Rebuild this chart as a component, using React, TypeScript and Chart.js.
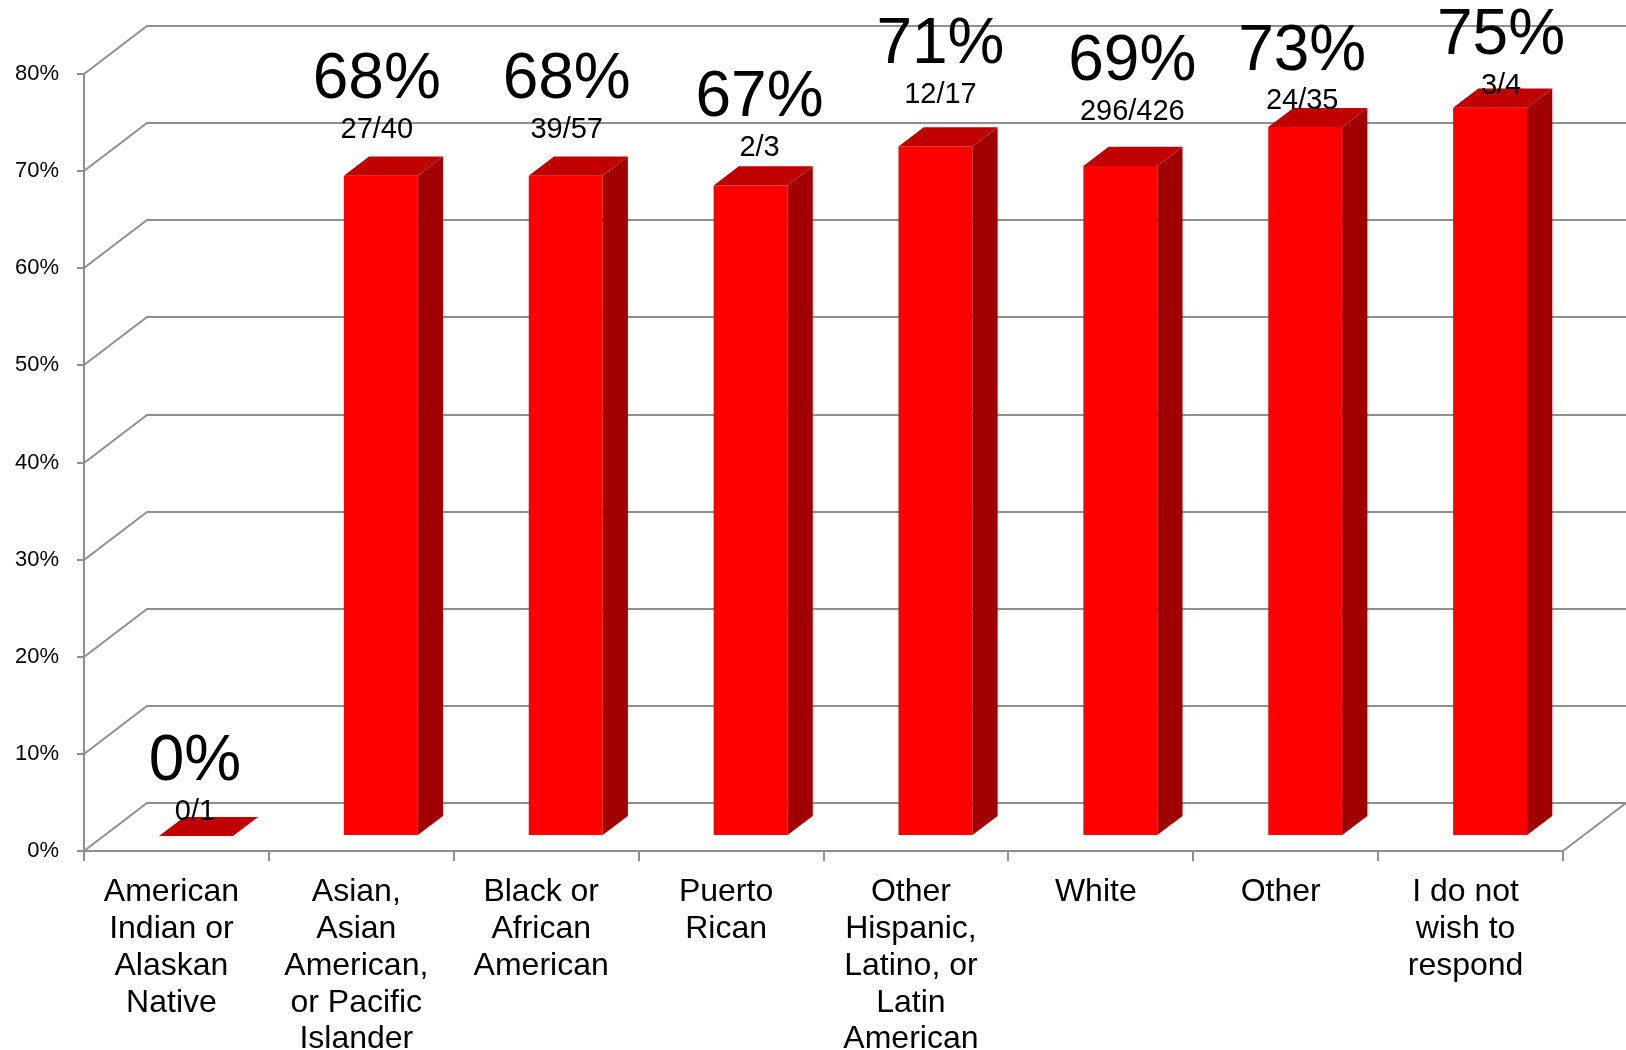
import React, { useEffect, useRef } from "react";
import { Chart, registerables } from "chart.js";

Chart.register(...registerables);

// ---------- data ----------
const CATEGORIES: string[][] = [
  ["American", "Indian or", "Alaskan", "Native"],
  ["Asian,", "Asian", "American,", "or Pacific", "Islander"],
  ["Black or", "African", "American"],
  ["Puerto", "Rican"],
  ["Other", "Hispanic,", "Latino, or", "Latin", "American"],
  ["White"],
  ["Other"],
  ["I do not", "wish to", "respond"],
];
const PERCENTS: number[] = [0, 68, 68, 67, 71, 69, 73, 75];
const COUNTS: number[] = [0, 27, 39, 2, 12, 296, 24, 3];
const TOTALS: number[] = [1, 40, 57, 3, 17, 426, 35, 4];
const Y_TICK_STEP = 10;
const Y_MAX = 80;

// ---------- layout / style ----------
const W = 1626;
const H = 1050;
const FONT = "'Liberation Sans', Arial, Helvetica, sans-serif";
const GRID = "#8f8f8f";
const DEPTH_DX = 63; // full 3D depth offset
const DEPTH_DY = -48;
const BAR_FRONT = 0.31; // depth fraction of bar front face
const BAR_DEPTH = 0.4; // depth fraction occupied by bar
const FRONT_COLOR = "#FF0000";
const TOP_COLOR = "#C00000";
const SIDE_COLOR = "#A00000";
// manual label placement (px): horizontal nudge from category centre, small label lift from bar top
const LABEL_DX = [18.5, 15.5, 20.5, 28.5, 24.5, 31.5, 16.5, 30.5];
const LABEL_LIFT = [-27, -48.5, -48.5, -40, -53.5, -56, -28, -24];
const BIG_GAP = 52.5;
const BIG_SIZE = 64;
const SMALL_SIZE = 29;

const fx = DEPTH_DX * BAR_FRONT;
const fy = DEPTH_DY * BAR_FRONT;
const bx = DEPTH_DX * BAR_DEPTH;
const by = DEPTH_DY * BAR_DEPTH;

const threeD = {
  id: "threeD",
  beforeDatasetsDraw(chart: any) {
    const { ctx, chartArea } = chart;
    const y = chart.scales.y;
    ctx.save();
    ctx.strokeStyle = GRID;
    ctx.lineWidth = 2;
    ctx.lineCap = "butt";
    for (let v = 0; v <= Y_MAX; v += Y_TICK_STEP) {
      const py = Math.round(y.getPixelForValue(v));
      ctx.beginPath();
      ctx.moveTo(chartArea.left, py);
      ctx.lineTo(chartArea.left + DEPTH_DX, py + DEPTH_DY);
      ctx.lineTo(W, py + DEPTH_DY);
      ctx.stroke();
    }
    // floor right edge
    ctx.beginPath();
    ctx.moveTo(chartArea.right, chartArea.bottom);
    ctx.lineTo(chartArea.right + DEPTH_DX, chartArea.bottom + DEPTH_DY);
    ctx.stroke();
    ctx.restore();
    // shift bars to their depth plane
    ctx.save();
    ctx.translate(fx, fy);
  },
  afterDatasetsDraw(chart: any) {
    const { ctx } = chart;
    const meta = chart.getDatasetMeta(0);
    meta.data.forEach((bar: any) => {
      const { x, y, base, width } = bar.getProps(["x", "y", "base", "width"], true);
      const l = x - width / 2;
      const r = x + width / 2;
      // top face
      ctx.fillStyle = TOP_COLOR;
      ctx.beginPath();
      ctx.moveTo(l, y);
      ctx.lineTo(r, y);
      ctx.lineTo(r + bx, y + by);
      ctx.lineTo(l + bx, y + by);
      ctx.closePath();
      ctx.fill();
      // side face
      if (base - y > 0.5) {
        ctx.fillStyle = SIDE_COLOR;
        ctx.beginPath();
        ctx.moveTo(r, y);
        ctx.lineTo(r + bx, y + by);
        ctx.lineTo(r + bx, base + by);
        ctx.lineTo(r, base);
        ctx.closePath();
        ctx.fill();
      }
    });
    ctx.restore();
  },
  afterDraw(chart: any) {
    const { ctx } = chart;
    const xs = chart.scales.x;
    const ys = chart.scales.y;
    ctx.save();
    ctx.fillStyle = "#000";
    ctx.textAlign = "center";
    ctx.textBaseline = "alphabetic";
    PERCENTS.forEach((p, i) => {
      const cx = xs.getPixelForValue(i) + LABEL_DX[i];
      const top = ys.getPixelForValue(p) + fy;
      const smallC = top + LABEL_LIFT[i];
      const bigC = smallC - BIG_GAP;
      ctx.font = `${SMALL_SIZE}px ${FONT}`;
      ctx.fillText(`${COUNTS[i]}/${TOTALS[i]}`, cx, smallC + 0.358 * SMALL_SIZE);
      ctx.font = `${BIG_SIZE}px ${FONT}`;
      ctx.fillText(`${p}%`, cx, bigC + 0.358 * BIG_SIZE);
    });
    ctx.restore();
  },
};

export default function App() {
  const ref = useRef<HTMLCanvasElement | null>(null);
  useEffect(() => {
    if (!ref.current) return;
    Chart.defaults.font.family = FONT;
    const chart = new Chart(ref.current, {
      type: "bar",
      data: {
        labels: CATEGORIES,
        datasets: [
          {
            data: PERCENTS,
            backgroundColor: FRONT_COLOR,
            borderWidth: 0,
            categoryPercentage: 1,
            barPercentage: 0.4,
          },
        ],
      },
      options: {
        responsive: false,
        animation: false,
        devicePixelRatio: 1,
        layout: { padding: { top: 74, right: W - 1563, left: 0, bottom: 0 } },
        plugins: { legend: { display: false }, tooltip: { enabled: false } },
        scales: {
          x: {
            grid: {
              drawOnChartArea: false,
              drawTicks: true,
              tickLength: 10,
              color: GRID,
              lineWidth: 2,
              offset: true,
            },
            border: { color: GRID, width: 2 },
            ticks: {
              color: "#000",
              font: { family: FONT, size: 32, lineHeight: 1.15 },
              maxRotation: 0,
              minRotation: 0,
              autoSkip: false,
              padding: 13,
              labelOffset: -5,
            },
            afterFit: (s: any) => {
              s.height = H - 851;
            },
          },
          y: {
            min: 0,
            max: Y_MAX,
            ticks: {
              stepSize: Y_TICK_STEP,
              callback: (v: any) => `${v}%`,
              color: "#000",
              font: { family: FONT, size: 22 },
              padding: 18,
            },
            grid: {
              drawOnChartArea: false,
              drawTicks: true,
              tickLength: 7,
              color: GRID,
              lineWidth: 2,
            },
            border: { color: GRID, width: 2 },
            afterFit: (s: any) => {
              s.width = 84;
            },
          },
        },
      },
      plugins: [threeD],
    });
    return () => chart.destroy();
  }, []);
  return (
    <div style={{ position: "absolute", left: 0, top: 0, width: W, height: H, background: "#fff" }}>
      <canvas ref={ref} width={W} height={H} style={{ display: "block" }} />
    </div>
  );
}
